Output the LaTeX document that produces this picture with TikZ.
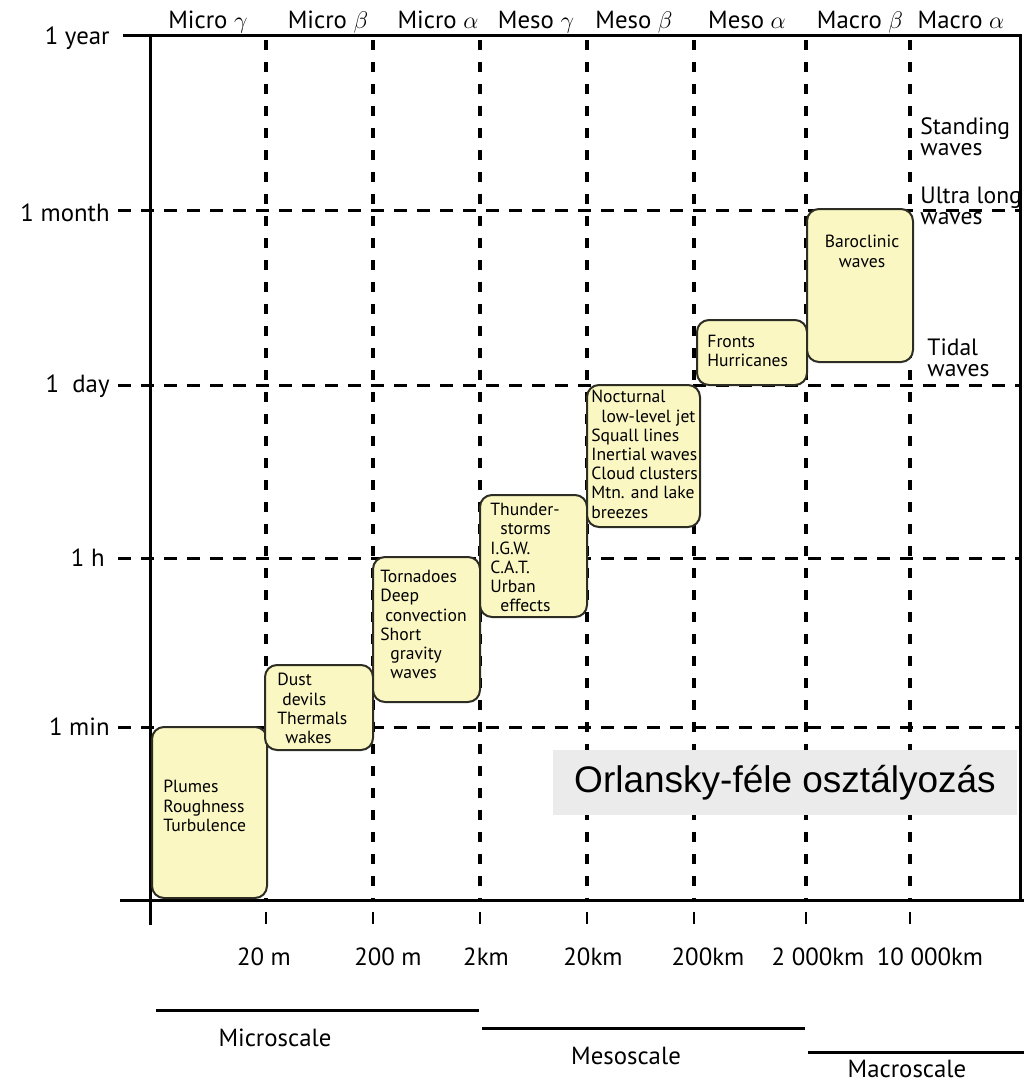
\documentclass[tikz,border=0pt]{standalone}
\usepackage{fontspec}
\setmainfont{PT Sans}
\newfontfamily\arialfont{Liberation Sans}
\usetikzlibrary{fit}

\definecolor{boxyellow}{RGB}{250,247,195}
\definecolor{boxedge}{RGB}{45,45,35}
\definecolor{notegray}{RGB}{235,235,235}

\tikzset{
  evbox/.style={draw=boxedge, fill=boxyellow, line width=1pt, rounded corners=6pt, inner sep=0pt},
  evtext/.style={anchor=north west, align=left, inner sep=0pt, font=\fontsize{8.8}{9.6}\selectfont},
  sidetext/.style={anchor=north west, align=left, inner sep=0pt, font=\fontsize{11.8}{10.5}\selectfont},
  scalelabel/.style={inner sep=0pt, font=\fontsize{12.4}{12.4}\selectfont},
  griddash/.style={line width=1.7pt, dash pattern=on 5pt off 6pt},
  gridhdash/.style={line width=1.5pt, dash pattern=on 6.5pt off 5pt},
  axisline/.style={line width=1.5pt},
}

\begin{document}
\begin{tikzpicture}[x=0.5pt,y=-0.5pt]
    \useasboundingbox (0,0) rectangle (1024,1084);

    % grid
    \draw[griddash] (266,40) -- (266,900);
    \draw[griddash] (373,40) -- (373,900);
    \draw[griddash] (480,40) -- (480,900);
    \draw[griddash] (587,40) -- (587,900);
    \draw[griddash] (694,40) -- (694,900);
    \draw[griddash] (806,40) -- (806,900);
    \draw[griddash] (910,40) -- (910,900);

    \draw[gridhdash] (118,210) -- (1020,210);
    \draw[gridhdash] (118,385) -- (1020,385);
    \draw[gridhdash] (118,558) -- (1020,558);
    \draw[gridhdash] (118,727) -- (1020,727);

    % axes
    \draw[axisline] (123,35) -- (1020,35) -- (1020,900);
    \draw[axisline] (150,35) -- (150,925);
    \draw[axisline] (120,900) -- (1024,900);

    \draw[line width=1.2pt] (266,912) -- (266,924);
    \draw[line width=1.2pt] (373,912) -- (373,924);
    \draw[line width=1.2pt] (480,912) -- (480,924);
    \draw[line width=1.2pt] (587,912) -- (587,924);
    \draw[line width=1.2pt] (694,912) -- (694,924);
    \draw[line width=1.2pt] (806,912) -- (806,924);
    \draw[line width=1.2pt] (910,912) -- (910,924);

    % time labels
    \node[scalelabel, anchor=east] (year)   at (110,38)  {1 year};
    \node[scalelabel, anchor=east] (month)  at (110,213) {1 month};
    \node[scalelabel, anchor=east] (day)    at (110,386) {1\ \ day};
    \node[scalelabel, anchor=east] (hour)   at (105,558) {1 h};
    \node[scalelabel, anchor=east] (minute) at (110,727) {1 min};

    % class labels
    \node[scalelabel, anchor=base] (microg) at (208,28) {Micro $\gamma$};
    \node[scalelabel, anchor=base] (microb) at (328,28) {Micro $\beta$};
    \node[scalelabel, anchor=base] (microa) at (438,28) {Micro $\alpha$};
    \node[scalelabel, anchor=base] (mesog)  at (536,28) {Meso $\gamma$};
    \node[scalelabel, anchor=base] (mesob)  at (634,28) {Meso $\beta$};
    \node[scalelabel, anchor=base] (mesoa)  at (747,28) {Meso $\alpha$};
    \node[scalelabel, anchor=base] (macrob) at (860,28) {Macro $\beta$};
    \node[scalelabel, anchor=base] (macroa) at (961,28) {Macro $\alpha$};

    % length labels
    \node[scalelabel] (len1) at (264,957) {20 m};
    \node[scalelabel] (len2) at (388,957) {200 m};
    \node[scalelabel] (len3) at (486,957) {2km};
    \node[scalelabel] (len4) at (593,957) {20km};
    \node[scalelabel] (len5) at (708,957) {200km};
    \node[scalelabel] (len6) at (818,957) {2~000km};
    \node[scalelabel] (len7) at (930,957) {10~000km};

    % scale bars
    \draw[axisline] (156,1010) -- (479,1010);
    \draw[axisline] (482,1028) -- (805,1028);
    \draw[axisline] (808,1052) -- (1024,1052);
    \node[scalelabel] (micro) at (275,1038) {Microscale};
    \node[scalelabel] (meso)  at (626,1056) {Mesoscale};
    \node[scalelabel] (macro) at (907,1069) {Macroscale};

    % phenomena
    \node[evbox, fit={(152,727) (267,898)}] (plumes) {};
    \node[evbox, fit={(265,665) (373,750)}] (dust) {};
    \node[evbox, fit={(373,557) (480,702)}] (tornado) {};
    \node[evbox, fit={(480,495) (587,617)}] (thunder) {};
    \node[evbox, fit={(587,385) (700,527)}] (jet) {};
    \node[evbox, fit={(697,320) (807,385)}] (fronts) {};
    \node[evbox, fit={(807,209) (913,362)}] (baro) {};

    \node[evtext] (plumestext) at (163,780) {Plumes\\Roughness\\Turbulence};
    \node[evtext] (dusttext) at (277,673) {Dust\\\hspace{2.5pt}devils\\Thermals\\\hspace{4pt}wakes};
    \node[evtext] (tornadotext) at (380,570) {Tornadoes\\Deep\\\hspace{2.5pt}convection\\Short\\\hspace{5pt}gravity\\\hspace{5pt}waves};
    \node[evtext] (thundertext) at (490,503) {Thunder-\\\hspace{5pt}storms\\I.G.W.\\C.A.T.\\Urban\\\hspace{5pt}effects};
    \node[evtext] (jettext) at (591,390) {Nocturnal\\\hspace{5pt}low-level jet\\Squall lines\\Inertial waves\\Cloud clusters\\Mtn. and lake\\breezes};
    \node[evtext] (frontstext) at (707,335) {Fronts\\Hurricanes};
    \node[evtext, anchor=north, align=center] (barotext) at (862,235) {Baroclinic\\waves};

    \node[sidetext] (standing) at (920,117) {Standing\\waves};
    \node[sidetext] (ultra) at (920,187) {Ultra long\\waves};
    \node[sidetext] (tidal) at (927,338) {Tidal\\waves};

    % caption
    \node[fill=notegray, minimum width=232pt, minimum height=32.5pt, inner sep=0pt,
          font=\arialfont\fontsize{18.5}{18.5}\selectfont] (orlansky) at (785,782.5) {Orlansky-féle osztályozás};

\end{tikzpicture}
\end{document}
